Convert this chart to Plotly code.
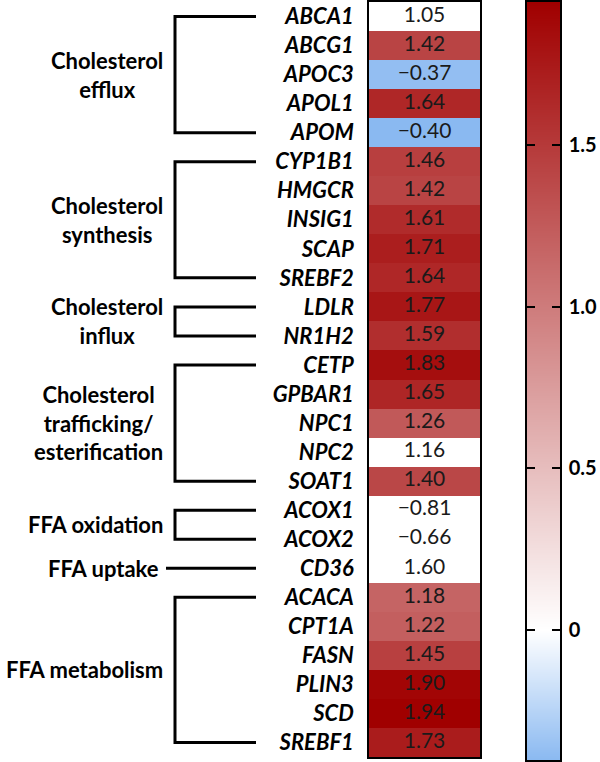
import plotly.graph_objects as go

genes = ["ABCA1", "ABCG1", "APOC3", "APOL1", "APOM",
         "CYP1B1", "HMGCR", "INSIG1", "SCAP", "SREBF2",
         "LDLR", "NR1H2",
         "CETP", "GPBAR1", "NPC1", "NPC2", "SOAT1",
         "ACOX1", "ACOX2",
         "CD36",
         "ACACA", "CPT1A", "FASN", "PLIN3", "SCD", "SREBF1"]
values = [1.05, 1.42, -0.37, 1.64, -0.40,
          1.46, 1.42, 1.61, 1.71, 1.64,
          1.77, 1.59,
          1.83, 1.65, 1.26, 1.16, 1.40,
          -0.81, -0.66,
          1.60,
          1.18, 1.22, 1.45, 1.90, 1.94, 1.73]
significant = [False, True, True, True, True,
               True, True, True, True, True,
               True, True,
               True, True, True, False, True,
               False, False,
               False,
               True, True, True, True, True, True]
group_names = ["Cholesterol<br>efflux", "Cholesterol<br>synthesis", "Cholesterol<br>influx",
               "Cholesterol<br>trafficking/<br>esterification", "FFA oxidation",
               "FFA uptake", "FFA metabolism"]
group_first = ["ABCA1", "CYP1B1", "LDLR", "CETP", "ACOX1", "CD36", "ACACA"]
group_last = ["APOM", "SREBF2", "NR1H2", "SOAT1", "ACOX2", "CD36", "SREBF1"]
cbar_ticks = [0, 0.5, 1.0, 1.5]
cbar_ticktext = ["0", "0.5", "1.0", "1.5"]

zmin = min(v for v, s in zip(values, significant) if s)
zmax = max(v for v, s in zip(values, significant) if s)
zero_pos = (0 - zmin) / (zmax - zmin)
colorscale = [[0, "#8ab9f1"], [zero_pos, "#ffffff"], [1, "#a00000"]]

FONT = "Lato"
W, H = 600, 762
hm_x0, hm_x1 = 369, 480
top_px, bot_px = 2, 757
cb_x0, cb_x1 = 527, 560
cb_top, cb_bot = 2, 760

def fmt(v):
    s = f"{abs(v):.2f}"
    return ("\u2212" + s) if v < 0 else s

fig = go.Figure()

# main heatmap
fig.add_trace(go.Heatmap(
    z=[[v] if s else [None] for v, s in zip(values, significant)],
    x=[0], y=genes, colorscale=colorscale, zmin=zmin, zmax=zmax,
    showscale=False, xaxis="x", yaxis="y", hoverongaps=False,
))
fig.add_trace(go.Scatter(
    x=[0] * len(genes), y=genes, mode="text",
    text=[fmt(v) for v in values],
    textfont=dict(family=FONT, size=21, color="#1a1a1a"),
    xaxis="x", yaxis="y", showlegend=False, hoverinfo="skip",
))

# brackets
for name, g0, g1 in zip(group_names, group_first, group_last):
    i0, i1 = genes.index(g0), genes.index(g1)
    if i0 == i1:
        xs, ys = [166, 256], [g0, g0]
        xa = 161
    else:
        xs, ys = [256, 175, 175, 256], [g0, g0, g1, g1]
        xa = 165
    fig.add_trace(go.Scatter(
        x=xs, y=ys, mode="lines", line=dict(color="black", width=3),
        xaxis="x2", yaxis="y", showlegend=False, hoverinfo="skip",
    ))
    fig.add_annotation(
        x=xa, y=(i0 + i1) / 2, xref="x2", yref="y", text=name,
        showarrow=False, xanchor="right", yanchor="middle", align="center",
        font=dict(family=FONT, size=22, color="black", weight="bold"),
    )

# colour bar drawn on its own axes
cb_levels = [zmin] + cbar_ticks + [zmax]
fig.add_trace(go.Heatmap(
    z=[[v, v] for v in cb_levels], x=[0, 1], y=cb_levels,
    colorscale=colorscale, zmin=zmin, zmax=zmax, zsmooth="best",
    showscale=False, xaxis="x3", yaxis="y3", hoverinfo="skip",
))

n = len(genes)
fig.update_layout(
    width=W, height=H, margin=dict(l=0, r=0, t=0, b=0, autoexpand=False),
    paper_bgcolor="white", plot_bgcolor="white", showlegend=False,
    xaxis=dict(domain=[hm_x0 / W, hm_x1 / W], range=[-0.5, 0.5], automargin=False,
               showticklabels=False, ticks="", showgrid=False, zeroline=False,
               showline=True, mirror=True, linecolor="black", linewidth=1.5),
    yaxis=dict(domain=[(H - bot_px) / H, (H - top_px) / H], range=[n - 0.5, -0.5],
               type="category", showgrid=False, zeroline=False, automargin=False,
               showline=True, mirror=True, linecolor="black", linewidth=1.5,
               ticks="", ticklabelstandoff=9,
               tickfont=dict(family=FONT, size=22, color="black",
                             weight="bold", style="italic")),
    xaxis2=dict(domain=[0, hm_x0 / W], range=[0, hm_x0], visible=False,
                anchor="y", automargin=False),
    xaxis3=dict(domain=[cb_x0 / W, cb_x1 / W], range=[0, 1], anchor="y3",
                automargin=False,
                showticklabels=False, ticks="", showgrid=False, zeroline=False,
                showline=True, mirror=True, linecolor="black", linewidth=1.5),
    yaxis3=dict(domain=[(H - cb_bot) / H, (H - cb_top) / H], range=[zmin, zmax],
                anchor="x3", side="right", showgrid=False, zeroline=False,
                automargin=False,
                showline=True, mirror="ticks", linecolor="black", linewidth=1.5,
                ticks="inside", ticklen=8, tickwidth=1.5, tickcolor="black",
                tickvals=cbar_ticks, ticktext=cbar_ticktext, ticklabelstandoff=3,
                tickfont=dict(family=FONT, size=20, color="black", weight="bold")),
)

fig.write_html("out.html", config={"displayModeBar": False},
               post_script="document.body.style.margin='0px';document.body.style.overflow='hidden';")
